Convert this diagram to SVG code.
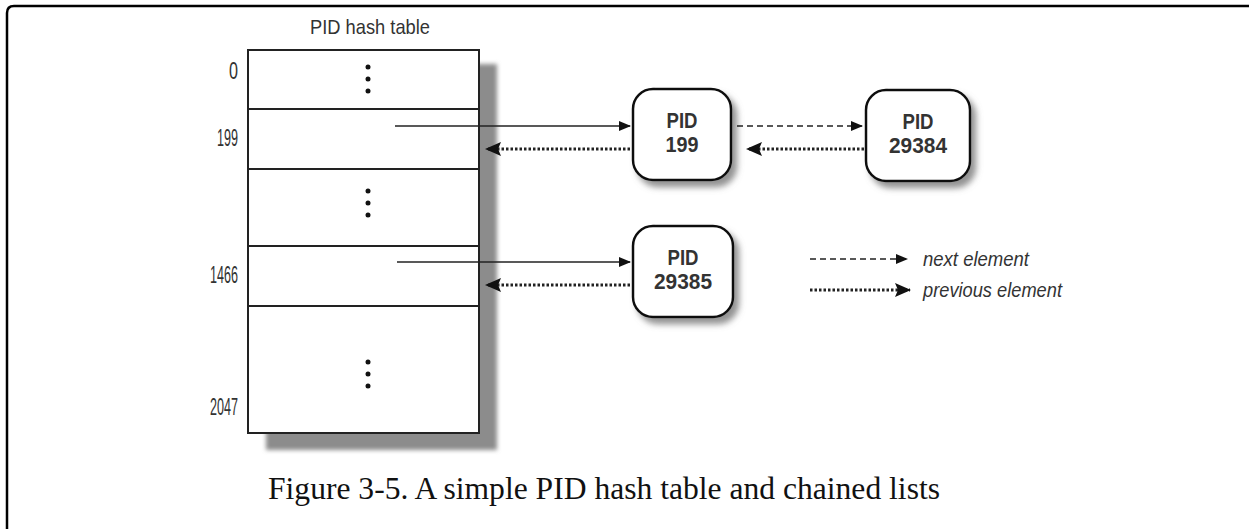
<svg xmlns="http://www.w3.org/2000/svg" width="1249" height="529" viewBox="0 0 1249 529">
<style>
.lbl{font-family:"Liberation Sans",Arial,sans-serif;font-size:21px;fill:#333}
.num{font-family:"Liberation Sans",Arial,sans-serif;font-size:24px;fill:#333;text-anchor:end}
.nt{font-family:"Liberation Sans",Arial,sans-serif;font-size:22px;font-weight:bold;fill:#333;text-anchor:middle}
.leg{font-family:"Liberation Sans",Arial,sans-serif;font-size:20px;font-style:italic;fill:#333}
.cap{font-family:"Liberation Serif","Times New Roman",serif;font-size:31px;fill:#111}
.cell{fill:#fff;stroke:#222;stroke-width:2}
.node{fill:#fff;stroke:#111;stroke-width:2.5}
.solid{stroke:#222;stroke-width:1.6;fill:none}
.dash{stroke:#222;stroke-width:1.6;fill:none;stroke-dasharray:6 4}
.dot{stroke:#222;stroke-width:3;fill:none;stroke-dasharray:2.5 2}
.d{fill:#111}
</style>
<defs>
<marker id="ah" markerWidth="12" markerHeight="10" refX="11" refY="5" orient="auto" markerUnits="userSpaceOnUse"><path d="M0,0 L12,5 L0,10 Z" fill="#111"/></marker>
<marker id="ahb" markerWidth="16" markerHeight="14" refX="15" refY="7" orient="auto" markerUnits="userSpaceOnUse"><path d="M0,0 L16,7 L0,14 L3,7 Z" fill="#111"/></marker>
<filter id="sh" x="-20%" y="-20%" width="150%" height="150%"><feDropShadow dx="5" dy="6" stdDeviation="3" flood-color="#777" flood-opacity="0.8"/></filter>
<filter id="bl" x="-10%" y="-10%" width="120%" height="120%"><feGaussianBlur stdDeviation="2"/></filter>
</defs>
<rect width="1249" height="529" fill="#fff"/>
<path d="M7,529 L7,13 Q7,6 14,6 L1249,6" fill="none" stroke="#000" stroke-width="2.5"/>

<g id="table">
<text class="lbl" x="310" y="34" textLength="120" lengthAdjust="spacingAndGlyphs">PID hash table</text>
<rect x="266" y="64" width="231" height="386" fill="#8c8c8c" filter="url(#bl)"/>
<rect class="cell" x="248" y="50" width="231" height="383"/>
<line class="cell" x1="248" y1="109" x2="479" y2="109"/>
<line class="cell" x1="248" y1="169" x2="479" y2="169"/>
<line class="cell" x1="248" y1="246" x2="479" y2="246"/>
<line class="cell" x1="248" y1="306" x2="479" y2="306"/>
<circle class="d" cx="368" cy="67" r="2.5"/><circle class="d" cx="368" cy="79" r="2.5"/><circle class="d" cx="368" cy="91" r="2.5"/>
<circle class="d" cx="368" cy="191" r="2.5"/><circle class="d" cx="368" cy="203" r="2.5"/><circle class="d" cx="368" cy="215" r="2.5"/>
<circle class="d" cx="368" cy="362" r="2.5"/><circle class="d" cx="368" cy="374" r="2.5"/><circle class="d" cx="368" cy="386" r="2.5"/>
<text class="num" x="238" y="79" textLength="9" lengthAdjust="spacingAndGlyphs">0</text>
<text class="num" x="238" y="146" textLength="21" lengthAdjust="spacingAndGlyphs">199</text>
<text class="num" x="238" y="283" textLength="28" lengthAdjust="spacingAndGlyphs">1466</text>
<text class="num" x="238" y="415" textLength="28" lengthAdjust="spacingAndGlyphs">2047</text>
</g>

<g id="node199">
<rect class="node" x="633" y="89" width="98" height="91" rx="20" filter="url(#sh)"/>
<text class="nt" x="682" y="128" textLength="31" lengthAdjust="spacingAndGlyphs">PID</text>
<text class="nt" x="682" y="152" textLength="33" lengthAdjust="spacingAndGlyphs">199</text>
</g>
<g id="node29384">
<rect class="node" x="866" y="90" width="104" height="91" rx="20" filter="url(#sh)"/>
<text class="nt" x="918" y="129" textLength="31" lengthAdjust="spacingAndGlyphs">PID</text>
<text class="nt" x="918" y="153" textLength="58" lengthAdjust="spacingAndGlyphs">29384</text>
</g>
<g id="node29385">
<rect class="node" x="633" y="226" width="100" height="91" rx="20" filter="url(#sh)"/>
<text class="nt" x="683" y="265" textLength="31" lengthAdjust="spacingAndGlyphs">PID</text>
<text class="nt" x="683" y="289" textLength="58" lengthAdjust="spacingAndGlyphs">29385</text>
</g>

<g id="connectors">
<line class="solid" x1="395" y1="126" x2="630" y2="126" marker-end="url(#ah)"/>
<line class="dot" x1="630" y1="149" x2="486" y2="149" marker-end="url(#ahb)"/>
<line class="dash" x1="737" y1="126" x2="862" y2="126" marker-end="url(#ah)"/>
<line class="dot" x1="864" y1="149" x2="747" y2="149" marker-end="url(#ahb)"/>
<line class="solid" x1="397" y1="262" x2="630" y2="262" marker-end="url(#ah)"/>
<line class="dot" x1="630" y1="285" x2="486" y2="285" marker-end="url(#ahb)"/>
</g>

<g id="legend">
<line class="dash" x1="810" y1="259" x2="907" y2="259" marker-end="url(#ah)"/>
<text class="leg" x="923" y="266" textLength="106" lengthAdjust="spacingAndGlyphs">next element</text>
<line class="dot" x1="810" y1="290" x2="910" y2="290" marker-end="url(#ahb)"/>
<text class="leg" x="923" y="297" textLength="139" lengthAdjust="spacingAndGlyphs">previous element</text>
</g>

<text class="cap" x="604" y="499" text-anchor="middle" textLength="672" lengthAdjust="spacingAndGlyphs">Figure 3-5. A simple PID hash table and chained lists</text>
</svg>
